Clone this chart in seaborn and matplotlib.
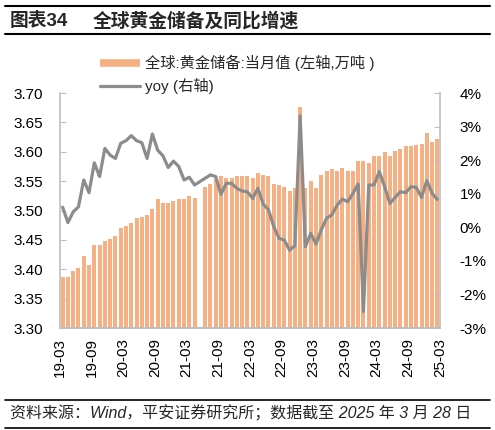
import matplotlib
matplotlib.use("Agg")
import matplotlib.pyplot as plt
from matplotlib.lines import Line2D
from matplotlib.ticker import FuncFormatter
from matplotlib.transforms import ScaledTranslation
import numpy as np
import pandas as pd
import seaborn as sns

months = [p.strftime("%y-%m") for p in pd.period_range("2019-03", periods=72, freq="M")]

reserves = [
    3.387, 3.387, 3.397, 3.402, 3.423, 3.407, 3.441, 3.441, 3.448, 3.451,
    3.456, 3.471, 3.474, 3.478, 3.487, 3.489, 3.492, 3.502, 3.520, 3.512,
    3.512, 3.517, 3.520, 3.520, 3.525, 3.522, np.nan, 3.540, 3.545, 3.554,
    3.559, 3.555, 3.555, 3.558, 3.558, 3.558, 3.555, 3.563, 3.560, 3.558,
    3.545, 3.543, 3.540, 3.533, 3.538, 3.676, 3.538, 3.550, 3.538, 3.560,
    3.568, 3.571, 3.568, 3.573, 3.568, 3.568, 3.584, 3.584, 3.581, 3.593,
    3.593, 3.599, 3.593, 3.601, 3.604, 3.609, 3.609, 3.611, 3.614, 3.632,
    3.617, 3.622,
]

yoy = [
    0.60, 0.14, 0.46, 0.61, 1.41, 1.03, 1.92, 1.51, 2.35, 2.15,
    2.05, 2.50, 2.58, 2.73, 2.58, 2.52, 2.05, 2.78, 2.30, 2.13,
    1.78, 1.97, 1.81, 1.41, 1.49, 1.26, 1.36, 1.46, 1.56, 1.51,
    0.98, 1.31, 1.31, 1.16, 1.08, 1.06, 0.86, 1.16, 0.69, 0.52,
    0.02, -0.33, -0.38, -0.68, -0.55, 3.32, -0.58, -0.18, -0.50, -0.08,
    0.27, 0.37, 0.66, 0.84, 0.76, 1.01, 1.29, -2.51, 1.26, 1.26,
    1.66, 1.21, 0.71, 0.89, 1.06, 1.03, 1.21, 1.19, 0.89, 1.39,
    1.01, 0.83,
]

tick_labels = ["19-03", "19-09", "20-03", "20-09", "21-03", "21-09", "22-03",
               "22-09", "23-03", "23-09", "24-03", "24-09", "25-03"]

bar_label = "全球:黄金储备:当月值 (左轴,万吨 )"
line_label = "yoy (右轴)"

BAR_COLOR = "#F5B183"
LINE_COLOR = "#8C8C8C"
AXIS_COLOR = "#BFBFBF"

sns.set_style("white")
plt.rcParams["font.family"] = ["Liberation Sans", "Noto Sans CJK SC", "DejaVu Sans"]
plt.rcParams["axes.unicode_minus"] = False

df = pd.DataFrame({"month": months, "reserves": reserves, "yoy": yoy})
df["pos"] = np.arange(len(df))

fig = plt.figure(figsize=(4.95, 4.30), dpi=100)
ax = fig.add_axes([60 / 495, 1 - 328 / 430, 380 / 495, 235 / 430])

sns.barplot(data=df, x="month", y="reserves", order=months, color=BAR_COLOR,
            saturation=1, width=0.76, errorbar=None, linewidth=0, ax=ax)
ax.set_ylim(3.30, 3.70)
ax.set_yticks(np.arange(3.30, 3.7001, 0.05))
ax.yaxis.set_major_formatter(FuncFormatter(lambda v, _: f"{v:.2f}"))

ax2 = ax.twinx()
sns.lineplot(data=df, x="pos", y="yoy", color=LINE_COLOR, linewidth=2.3, ax=ax2)
ax2.set_ylim(-3, 4)
ax2.set_yticks(np.arange(-3, 4.01, 1))
ax2.yaxis.set_major_formatter(FuncFormatter(lambda v, _: f"{v:.0f}%"))

ax.set_xlim(-0.5, len(months) - 0.5)
ax.set_xticks(np.arange(-0.5, len(months), 6))
ax.set_xticklabels(tick_labels, rotation=90)
shift = ScaledTranslation(4 / 100, 0, fig.dpi_scale_trans)
for lbl in ax.get_xticklabels():
    lbl.set_transform(lbl.get_transform() + shift)

for a in (ax, ax2):
    a.set_xlabel("")
    a.set_ylabel("")
    a.spines["top"].set_visible(False)
    for side in ("left", "right", "bottom"):
        a.spines[side].set_color(AXIS_COLOR)
        a.spines[side].set_linewidth(1.2)
ax.spines["right"].set_visible(False)
ax2.spines["left"].set_visible(False)

ax.tick_params(axis="y", direction="in", length=4, color=AXIS_COLOR, pad=12,
               labelsize=11, labelcolor="black")
ax.tick_params(axis="x", direction="in", length=4, color=AXIS_COLOR, pad=7,
               labelsize=11, labelcolor="black")
ax2.tick_params(axis="y", direction="in", length=4, color=AXIS_COLOR, pad=14,
                labelsize=11, labelcolor="black")

handles = [Line2D([], [], color=BAR_COLOR, linewidth=5.5, solid_capstyle="butt"),
           Line2D([], [], color=LINE_COLOR, linewidth=2.3)]
fig.legend(handles, [bar_label, line_label], loc="upper left",
           bbox_to_anchor=(100 / 495, 1 - 55 / 430), frameon=False,
           fontsize=11, handlelength=2.6, handletextpad=0.35,
           labelspacing=0.45, borderpad=0, borderaxespad=0)

# header and footer bands
fig.add_artist(Line2D([5 / 495, 490 / 495], [1 - 6 / 430] * 2, color="black", lw=1.5))
fig.add_artist(Line2D([5 / 495, 490 / 495], [1 - 34 / 430] * 2, color="black", lw=1.5))
fig.text(10 / 495, 1 - 21 / 430, "图表34", fontsize=13.5, fontweight="bold", va="center")
fig.text(93 / 495, 1 - 21 / 430, "全球黄金储备及同比增速", fontsize=13.5,
         fontweight="bold", va="center")

fig.add_artist(Line2D([5 / 495, 490 / 495], [1 - 400 / 430] * 2, color="black", lw=1.2))
fig.add_artist(Line2D([5 / 495, 490 / 495], [1 - 428 / 430] * 2, color="black", lw=1.2))
fig.text(10 / 495, 1 - 413 / 430, "资料来源：Wind，平安证券研究所；数据截至 2025 年 3 月 28 日",
         fontsize=11.5, style="italic", va="center")

fig.savefig("out.png", dpi=100)
